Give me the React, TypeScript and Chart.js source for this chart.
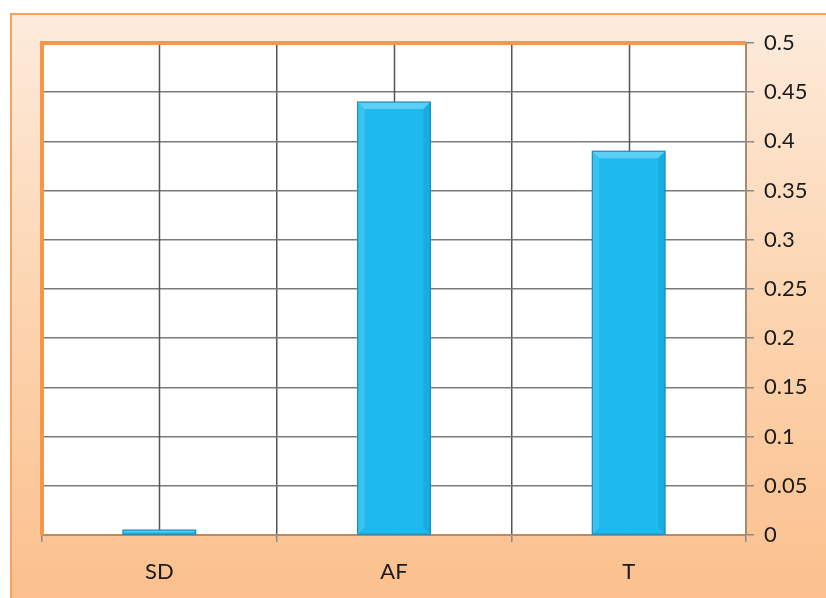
import React, { useEffect, useRef } from "react";
import { Chart, registerables } from "chart.js";

Chart.register(...registerables);

const categories = ["SD", "AF", "T"];
const values = [0.005, 0.44, 0.39];
const yMin = 0;
const yMax = 0.5;
const yStep = 0.05;

const chartFrame = {
  id: "chartFrame",
  beforeDatasetsDraw(chart: any) {
    const { ctx, chartArea, scales } = chart;
    const x = scales.x;
    ctx.save();
    ctx.strokeStyle = "#555555";
    ctx.lineWidth = 1.5;
    for (let i = 0; i < categories.length; i++) {
      const px = Math.round(x.getPixelForValue(i)) + 0.5;
      ctx.beginPath();
      ctx.moveTo(px, chartArea.top);
      ctx.lineTo(px, chartArea.bottom);
      ctx.stroke();
    }
    ctx.restore();
  },
  afterDatasetsDraw(chart: any) {
    const { ctx, chartArea } = chart;
    const meta = chart.getDatasetMeta(0);
    ctx.save();
    meta.data.forEach((bar: any) => {
      const left = bar.x - bar.width / 2;
      const right = bar.x + bar.width / 2;
      const top = bar.y;
      const bottom = bar.base;
      const b = Math.min(7, (bottom - top) / 2);
      ctx.fillStyle = "rgba(150,230,255,0.5)";
      ctx.beginPath();
      ctx.moveTo(left, top);
      ctx.lineTo(right, top);
      ctx.lineTo(right - b, top + b);
      ctx.lineTo(left + b, top + b);
      ctx.closePath();
      ctx.fill();
      ctx.fillStyle = "rgba(120,215,250,0.3)";
      ctx.beginPath();
      ctx.moveTo(left, top);
      ctx.lineTo(left + b, top + b);
      ctx.lineTo(left + b, bottom - b);
      ctx.lineTo(left, bottom);
      ctx.closePath();
      ctx.fill();
      ctx.fillStyle = "rgba(10,120,170,0.2)";
      ctx.beginPath();
      ctx.moveTo(right, top);
      ctx.lineTo(right - b, top + b);
      ctx.lineTo(right - b, bottom - b);
      ctx.lineTo(right, bottom);
      ctx.closePath();
      ctx.fill();
      ctx.strokeStyle = "#1a8cbc";
      ctx.lineWidth = 1.2;
      ctx.strokeRect(left, top, right - left, bottom - top);
    });
    ctx.strokeStyle = "#f79646";
    ctx.lineWidth = 4;
    ctx.beginPath();
    ctx.moveTo(chartArea.left, chartArea.bottom);
    ctx.lineTo(chartArea.left, chartArea.top);
    ctx.lineTo(chartArea.right, chartArea.top);
    ctx.stroke();
    ctx.restore();
  },
};

const plotBg = {
  id: "plotBg",
  beforeDraw(chart: any) {
    const { ctx, chartArea } = chart;
    ctx.save();
    ctx.fillStyle = "#ffffff";
    ctx.fillRect(chartArea.left, chartArea.top, chartArea.right - chartArea.left, chartArea.bottom - chartArea.top);
    ctx.restore();
  },
};

export default function App() {
  const ref = useRef<HTMLCanvasElement>(null);
  useEffect(() => {
    if (!ref.current) return;
    const chart = new Chart(ref.current, {
      type: "bar",
      data: {
        labels: categories,
        datasets: [
          {
            data: values,
            backgroundColor: "#1ebaee",
            borderWidth: 0,
            barPercentage: 0.31,
            categoryPercentage: 1,
          },
        ],
      },
      options: {
        animation: false,
        responsive: false,
        devicePixelRatio: 1,
        layout: { padding: { left: 30, top: 28, right: 0, bottom: 0 } },
        plugins: { legend: { display: false }, tooltip: { enabled: false } },
        scales: {
          x: {
            offset: true,
            grid: {
              offset: true,
              color: "#555555",
              lineWidth: 1.5,
              drawOnChartArea: true,
              tickLength: 7,
              tickColor: "#8a8a8a",
            },
            border: { color: "#b98a63", width: 2 },
            ticks: { color: "#1a1a1a", font: { family: "Lato", size: 22 }, padding: 17 },
            afterFit: (s: any) => {
              s.height = 65;
            },
          },
          y: {
            position: "right",
            min: yMin,
            max: yMax,
            grid: { color: "#7a7a7a", lineWidth: 1.5, tickLength: 8, tickColor: "#8a8a8a" },
            border: { color: "#a88a72", width: 2 },
            ticks: {
              stepSize: yStep,
              color: "#1a1a1a",
              font: { family: "Lato", size: 22 },
              padding: 10,
              callback: (v: any) => String(Math.round(Number(v) * 100) / 100),
            },
            afterFit: (s: any) => {
              s.width = 82;
            },
          },
        },
      },
      plugins: [plotBg, chartFrame],
    });
    return () => chart.destroy();
  }, []);
  return (
    <div
      style={{
        position: "fixed",
        left: 0,
        top: 0,
        width: 826,
        height: 598,
        overflow: "hidden",
        background: "#ffffff",
      }}
    >
      <div
        style={{
          position: "absolute",
          left: 10,
          top: 13,
          width: 830,
          height: 600,
          boxSizing: "border-box",
          border: "2px solid #f4a261",
          background: "linear-gradient(180deg, #fdebdc 0%, #fcd6b3 45%, #fbbf8c 100%)",
        }}
      >
        <canvas ref={ref} width={816} height={585} style={{ display: "block" }} />
      </div>
    </div>
  );
}
